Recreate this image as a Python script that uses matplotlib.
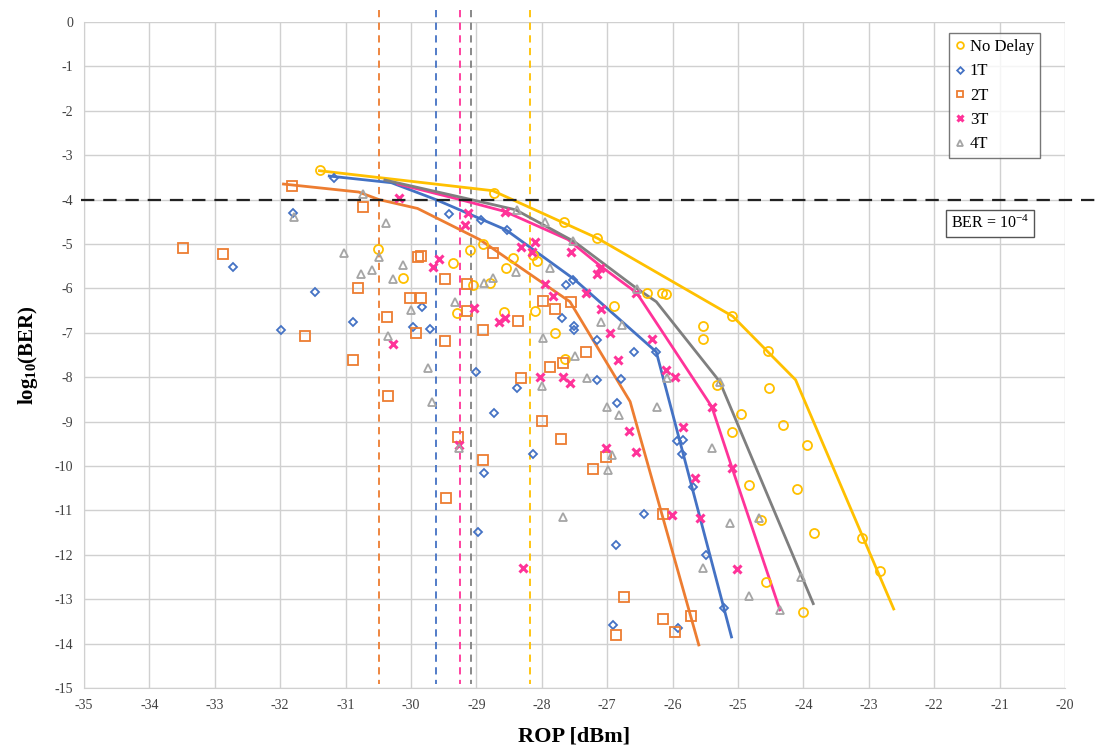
import matplotlib
matplotlib.use("Agg")
import matplotlib.pyplot as plt

plt.rcParams['font.family'] = ['Liberation Serif', 'DejaVu Serif']
plt.rcParams['mathtext.default'] = 'regular'
plt.rcParams['axes.unicode_minus'] = False

# ---------------- data ----------------
series_names = ["No Delay", "1T", "2T", "3T", "4T"]

nodelay_x = [-31.39, -30.5, -30.12, -29.36, -29.1, -29.05, -29.3, -28.73, -28.9, -28.44, -28.55, -28.79,
             -28.58, -28.1, -28.07, -28.13, -27.66, -27.16, -27.8, -27.65, -26.9, -26.39, -26.16, -26.1,
             -25.54, -25.54, -25.09, -24.54, -25.32, -24.53, -24.95, -24.31, -25.09, -23.95, -24.83, -24.1,
             -24.65, -23.84, -24.57, -24.0, -23.1, -22.83]
nodelay_y = [-3.33, -5.11, -5.77, -5.43, -5.13, -5.92, -6.55, -3.85, -5.0, -5.31, -5.54, -5.88,
             -6.53, -6.51, -5.38, -5.25, -4.5, -4.87, -7.0, -7.59, -6.4, -6.1, -6.1, -6.13,
             -6.85, -7.14, -6.63, -7.41, -8.18, -8.24, -8.83, -9.08, -9.23, -9.53, -10.43, -10.52,
             -11.22, -11.51, -12.61, -13.29, -11.62, -12.36]

t1_x = [-31.18, -31.8, -32.72, -31.47, -31.99, -30.89, -29.83, -29.97, -29.71, -29.42, -28.93, -28.53,
        -29.0, -28.38, -27.16, -27.51, -27.51, -27.69, -27.63, -27.52, -27.16, -26.59, -26.25, -26.79,
        -26.85, -25.93, -25.84, -25.86, -25.69, -26.44, -26.87, -25.49, -25.21, -26.91, -25.92, -28.73,
        -28.13, -28.88, -28.98]
t1_y = [-3.51, -4.3, -5.52, -6.08, -6.94, -6.76, -6.42, -6.87, -6.91, -4.33, -4.46, -4.68,
        -7.88, -8.24, -8.06, -6.85, -6.94, -6.67, -5.92, -5.81, -7.16, -7.43, -7.43, -8.04,
        -8.58, -9.44, -9.41, -9.73, -10.47, -11.08, -11.78, -12.0, -13.2, -13.58, -13.65, -8.81,
        -9.73, -10.16, -11.49]

t2_x = [-31.82, -33.49, -32.87, -31.62, -30.89, -30.81, -30.73, -29.89, -29.85, -29.48, -30.02, -29.85,
        -30.37, -29.92, -29.48, -30.35, -29.14, -29.14, -28.75, -28.9, -28.36, -28.32, -27.87, -27.68,
        -27.32, -27.8, -27.98, -27.55, -27.71, -27.02, -27.22, -26.15, -26.74, -26.15, -25.72, -26.87,
        -25.96, -28.0, -29.28, -28.9, -29.46]
t2_y = [-3.69, -5.09, -5.23, -7.07, -7.61, -5.99, -4.17, -5.29, -5.27, -5.79, -6.22, -6.22,
        -6.64, -7.0, -7.19, -8.42, -5.9, -6.51, -5.2, -6.94, -6.73, -8.02, -7.77, -7.68,
        -7.43, -6.46, -6.28, -6.3, -9.39, -9.8, -10.07, -11.08, -12.95, -13.45, -13.38, -13.81,
        -13.74, -8.99, -9.35, -9.86, -10.72]

t3_x = [-30.18, -30.28, -29.66, -29.57, -29.17, -29.13, -29.04, -28.65, -28.56, -28.56, -28.03, -27.68,
        -27.57, -27.83, -27.95, -28.1, -28.15, -28.32, -27.55, -27.32, -27.16, -27.11, -27.09, -26.96,
        -26.56, -26.83, -26.31, -26.1, -25.96, -26.67, -27.02, -26.56, -25.84, -25.4, -25.09, -25.66,
        -26.01, -25.58, -25.01, -28.29, -29.27]
t3_y = [-3.96, -7.25, -5.52, -5.34, -4.57, -4.3, -6.45, -6.76, -6.67, -4.27, -8.0, -8.0,
        -8.13, -6.17, -5.89, -4.95, -5.17, -5.07, -5.17, -6.1, -5.68, -5.54, -6.47, -7.0,
        -6.1, -7.61, -7.14, -7.84, -8.0, -9.21, -9.6, -9.68, -9.12, -8.67, -10.05, -10.28,
        -11.1, -11.17, -12.32, -12.3, -9.52]

t4_x = [-31.79, -30.73, -30.38, -31.02, -30.49, -30.76, -30.6, -30.12, -30.28, -30.0, -30.35, -29.74,
        -29.68, -29.33, -28.88, -28.75, -28.39, -28.38, -27.95, -27.52, -27.87, -28.0, -27.31, -27.98,
        -27.49, -27.09, -26.77, -26.54, -26.09, -25.28, -27.0, -26.82, -26.24, -26.93, -26.99, -25.4,
        -27.68, -25.12, -24.68, -25.54, -24.83, -24.04, -24.36, -29.27]
t4_y = [-4.39, -3.88, -4.52, -5.2, -5.29, -5.68, -5.59, -5.47, -5.79, -6.49, -7.07, -7.8,
        -8.56, -6.3, -5.88, -5.77, -5.63, -4.23, -4.5, -4.93, -5.54, -8.2, -8.02, -7.12,
        -7.52, -6.76, -6.82, -6.01, -8.02, -8.11, -8.67, -8.85, -8.67, -9.75, -10.09, -9.6,
        -11.15, -11.28, -11.17, -12.3, -12.93, -12.5, -13.24, -9.6]

# fitted trend lines
nodelay_fit_x = [-31.4, -28.75, -27.15, -25.08, -24.12, -22.62]
nodelay_fit_y = [-3.35, -3.8, -4.87, -6.63, -8.06, -13.22]
t1_fit_x = [-31.25, -30.3, -29.62, -28.55, -27.5, -26.25, -25.1]
t1_fit_y = [-3.47, -3.62, -4.0, -4.68, -5.8, -7.43, -13.85]
t2_fit_x = [-31.95, -30.8, -30.49, -29.9, -28.95, -27.57, -26.65, -25.6]
t2_fit_y = [-3.65, -3.83, -4.0, -4.2, -4.9, -6.3, -8.55, -14.03]
t3_fit_x = [-30.2, -29.25, -28.56, -27.6, -27.1, -26.55, -25.4, -25.09, -24.36]
t3_fit_y = [-3.65, -4.0, -4.27, -4.9, -5.5, -6.1, -8.67, -10.05, -13.24]
t4_fit_x = [-30.4, -29.08, -28.4, -27.5, -26.55, -26.25, -25.28, -23.85]
t4_fit_y = [-3.56, -4.0, -4.23, -4.95, -6.0, -6.3, -8.1, -13.1]

# ROP at BER = 1e-4 for each series
threshold_rop = [-28.18, -29.62, -30.49, -29.25, -29.08]
ber_limit = -4

# ---------------- styles ----------------
colors = ['#FFC000', '#4472C4', '#ED7D31', '#FF3399', '#A5A5A5']
line_colors = ['#FFC000', '#4472C4', '#ED7D31', '#FF3399', '#7F7F7F']
markers = ['o', 'D', 's', 'x', '^']
msizes = [6.5, 4.5, 6.5, 5.5, 6]

xs = [nodelay_x, t1_x, t2_x, t3_x, t4_x]
ys = [nodelay_y, t1_y, t2_y, t3_y, t4_y]
fxs = [nodelay_fit_x, t1_fit_x, t2_fit_x, t3_fit_x, t4_fit_x]
fys = [nodelay_fit_y, t1_fit_y, t2_fit_y, t3_fit_y, t4_fit_y]

fig = plt.figure(figsize=(10.98, 7.45), dpi=100)
ax = fig.add_axes([0.0765, 0.0765, 0.8935, 0.894])

ax.set_xlim(-35, -20)
ax.set_ylim(-15, 0)
ax.set_xticks(range(-35, -19))
ax.set_yticks(range(-15, 1))
ax.grid(True, color='#D0D0D0', linewidth=1.0)
ax.set_axisbelow(True)
for s in ['top', 'right']:
    ax.spines[s].set_visible(False)
for s in ['left', 'bottom']:
    ax.spines[s].set_color('#D0D0D0')
ax.tick_params(length=0, labelsize=10, colors='#404040', pad=8)

# fit lines
for i in range(5):
    ax.plot(fxs[i], fys[i], color=line_colors[i], linewidth=2.0, zorder=3)

# scatter
handles = []
for i in range(5):
    if markers[i] == 'x':
        h, = ax.plot(xs[i], ys[i], linestyle='none', marker='x', markersize=msizes[i],
                     markeredgewidth=2.2, color=colors[i], label=series_names[i], zorder=4)
    else:
        h, = ax.plot(xs[i], ys[i], linestyle='none', marker=markers[i], markersize=msizes[i],
                     markerfacecolor='none', markeredgewidth=1.3, markeredgecolor=colors[i],
                     label=series_names[i], zorder=4)
    handles.append(h)

# threshold vertical lines
for i in range(5):
    ax.plot([threshold_rop[i], threshold_rop[i]], [0.27, -14.9], linestyle=(0, (4, 3)),
            color=colors[i] if i != 4 else '#808080', linewidth=1.3, clip_on=False, zorder=2)

# BER limit horizontal line
ax.plot([-35.05, -19.52], [ber_limit, ber_limit], linestyle=(0, (6, 4)), color='#222222',
        linewidth=1.6, clip_on=False, zorder=5)

ax.text(-21.15, -4.53, 'BER = 10$^{-4}$', fontsize=11.5, ha='center', va='center',
        bbox=dict(boxstyle='square,pad=0.3', facecolor='white', edgecolor='#555555', linewidth=1.0),
        zorder=6)

leg = ax.legend(handles=handles, loc='upper right', bbox_to_anchor=(0.9745, 0.983), fontsize=12,
                frameon=True, fancybox=False, edgecolor='#555555', handlelength=0.6,
                handletextpad=0.3, borderpad=0.35, labelspacing=0.5, markerscale=0.75,
                borderaxespad=0.0)
leg.get_frame().set_linewidth(1.0)

ax.set_xlabel('ROP [dBm]', fontsize=16, fontweight='bold', labelpad=10)
ax.set_ylabel('log$_{10}$(BER)', fontsize=15, fontweight='bold', labelpad=10)

fig.savefig('out.png', dpi=100)
